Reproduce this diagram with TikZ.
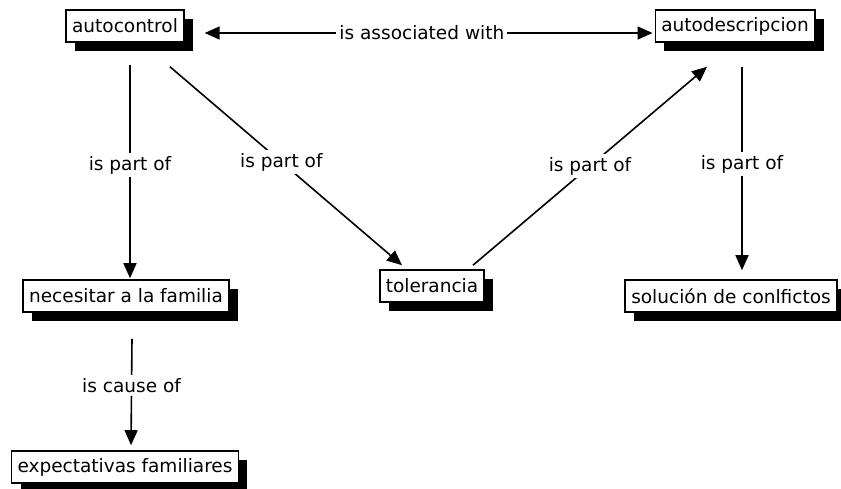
\documentclass[tikz,border=0pt]{standalone}
\usepackage{fontspec}
\setmainfont{DejaVu Sans}
\usepackage{tikz}
\usetikzlibrary{arrows.meta,shadows}

\begin{document}
\begin{tikzpicture}
      [x=1pt, y=-1pt, font=\fontsize{18.5}{20}\selectfont,
      concept/.style={draw, fill=white, line width=1.6pt, minimum height=32pt,
        inner xsep=6pt, inner ysep=0pt,
        drop shadow={shadow xshift=9pt, shadow yshift=-9pt, fill=black, opacity=1}},
      link/.style={line width=1.6pt, -{Triangle[length=15pt,width=13pt]}},
      linklabel/.style={fill=white, inner sep=3pt}]
      \useasboundingbox (0,0) rectangle (841,489);
      % concepts
      \node[concept] (autocontrol) at (125,26) {autocontrol};
      \node[concept] (autodescripcion) at (735,26) {autodescripcion};
      \node[concept] (necesitar) at (126,296) {necesitar a la familia};
      \node[concept] (tolerancia) at (432,286) {tolerancia};
      \node[concept] (solucion) at (731,296) {solución de conlfictos};
      \node[concept] (expectativas) at (125,467) {expectativas familiares};
      % links
      \draw[link, {Triangle[length=15pt,width=13pt]}-{Triangle[length=15pt,width=13pt]}]
        ([xshift=20pt,yshift=-7pt]autocontrol.east) -- ([xshift=-2pt,yshift=-7pt]autodescripcion.west)
        node[linklabel, pos=0.485] {is associated with};
      \draw[link] ([xshift=5pt,yshift=-22pt]autocontrol.south) -- ([xshift=4pt,yshift=1pt]necesitar.north)
        node[linklabel, pos=0.47] {is part of};
      \draw[link] ([xshift=45pt,yshift=-24pt]autocontrol.south) -- ([xshift=-30pt,yshift=4pt]tolerancia.north)
        node[linklabel, pos=0.48] {is part of};
      \draw[link] ([xshift=41pt,yshift=4pt]tolerancia.north) -- ([xshift=-28pt,yshift=-24pt]autodescripcion.south)
        node[linklabel, pos=0.5] {is part of};
      \draw[link] ([xshift=7pt,yshift=-24pt]autodescripcion.south) -- ([xshift=11pt,yshift=9pt]solucion.north)
        node[linklabel, pos=0.48] {is part of};
      \draw[link] ([xshift=6pt,yshift=-26pt]necesitar.south) -- ([xshift=6pt,yshift=5pt]expectativas.north)
        node[linklabel, pos=0.44] {is cause of};
    \end{tikzpicture}
\end{document}
